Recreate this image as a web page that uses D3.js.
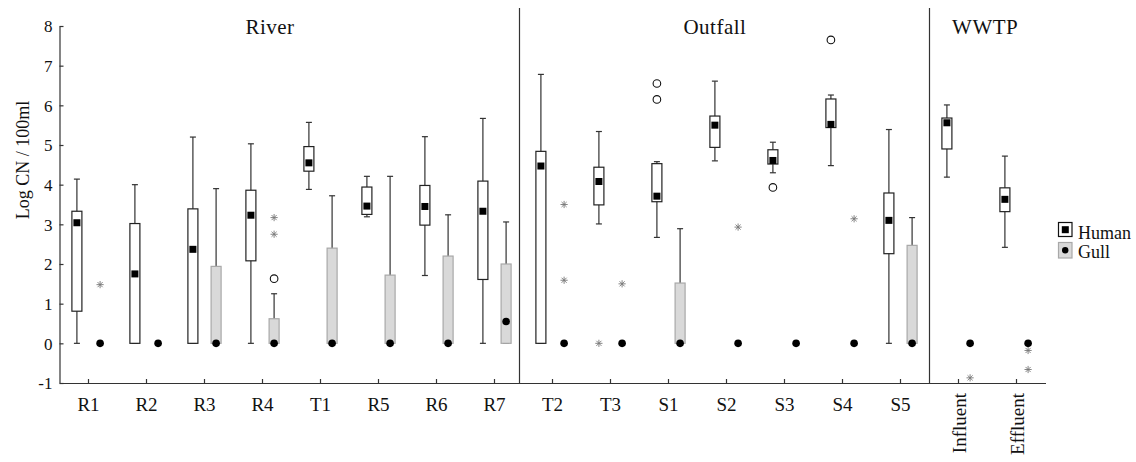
<!DOCTYPE html>
<html>
<head>
<meta charset="utf-8">
<script src="https://cdn.jsdelivr.net/npm/d3@7"></script>
<style>
  body { margin: 0; background: #fff; }
  text { font-family: "Liberation Serif", "Times New Roman", serif; fill: #111; }
</style>
</head>
<body>
<div id="main"></div>
<script>
// sampling sites, left to right
var categories = ["R1", "R2", "R3", "R4", "T1", "R5", "R6", "R7",
                  "T2", "T3", "S1", "S2", "S3", "S4", "S5", "Influent", "Effluent"];

// [whisker low, q1, median, q3, whisker high]  (log CN / 100ml)
var humanStats = [
  [0, 0.81, 3.04, 3.33, 4.14],
  [0, 0, 1.75, 3.02, 4.0],
  [0, 0, 2.37, 3.39, 5.2],
  [0, 2.08, 3.23, 3.86, 5.03],
  [3.88, 4.34, 4.55, 4.96, 5.57],
  [3.19, 3.25, 3.46, 3.94, 4.21],
  [1.71, 2.98, 3.45, 3.98, 5.21],
  [0, 1.61, 3.33, 4.09, 5.67],
  [0, 0, 4.47, 4.84, 6.78],
  [3.01, 3.49, 4.08, 4.44, 5.34],
  [2.67, 3.57, 3.71, 4.53, 4.58],
  [4.6, 4.94, 5.5, 5.73, 6.61],
  [4.3, 4.52, 4.61, 4.88, 5.07],
  [4.48, 5.44, 5.52, 6.16, 6.26],
  [0, 2.26, 3.1, 3.79, 5.39],
  [4.19, 4.9, 5.56, 5.68, 6.01],
  [2.42, 3.32, 3.63, 3.92, 4.72]
];

var gullStats = [
  [0, 0, 0, 0, 0],
  [0, 0, 0, 0, 0],
  [0, 0, 0, 1.94, 3.9],
  [0, 0, 0, 0.62, 1.25],
  [0, 0, 0, 2.4, 3.72],
  [0, 0, 0, 1.72, 4.21],
  [0, 0, 0, 2.2, 3.24],
  [0, 0, 0.55, 2.0, 3.06],
  [0, 0, 0, 0, 0],
  [0, 0, 0, 0, 0],
  [0, 0, 0, 1.52, 2.89],
  [0, 0, 0, 0, 0],
  [0, 0, 0, 0, 0],
  [0, 0, 0, 0, 0],
  [0, 0, 0, 2.47, 3.17],
  [0, 0, 0, 0, 0],
  [0, 0, 0, 0, 0]
];

// outliers (open circles) and extremes (asterisks): [site, marker, value]
var outliers = [
  ["R4", "gull", 1.63],
  ["S1", "human", 6.55],
  ["S1", "human", 6.15],
  ["S3", "human", 3.93],
  ["S4", "human", 7.65]
];
var extremes = [
  ["R1", "gull", 1.48],
  ["R4", "gull", 3.17],
  ["R4", "gull", 2.75],
  ["T2", "gull", 3.5],
  ["T2", "gull", 1.59],
  ["T3", "human", 0],
  ["T3", "gull", 1.5],
  ["S2", "gull", 2.93],
  ["S4", "gull", 3.14],
  ["Influent", "gull", -0.87],
  ["Effluent", "gull", -0.66],
  ["Effluent", "gull", -0.18]
];

var yTicks = [-1, 0, 1, 2, 3, 4, 5, 6, 7, 8];

// site groups; labelAt = band index where the title is centred
var sections = [
  { name: "River",   first: "R1",       last: "R7",       labelAt: 3.13 },
  { name: "Outfall", first: "T2",       last: "S5",       labelAt: 10.8 },
  { name: "WWTP",    first: "Influent", last: "Effluent", labelAt: 15.46 }
];

var width = 1136, height = 462;

var svg = d3.select("#main").append("svg")
  .attr("width", width)
  .attr("height", height);

var x = d3.scaleBand()
  .domain(categories)
  .range([59.5, 1045.5])
  .padding(0);

var y = d3.scaleLinear()
  .domain([-1, 8])
  .range([383, 26]);

var step = x.step();
var off = step * 0.2;   // distance of each marker from the site tick
var boxW = 10;
var capW = 6;

function cx(site, group) {
  return x(site) + step / 2 + (group == "human" ? -off : off);
}

// y axis
var yAxis = svg.append("g")
  .attr("transform", "translate(59.5,0)")
  .call(d3.axisLeft(y).tickValues(yTicks).tickFormat(function(d) { return String(d); })
    .tickSizeInner(-4).tickSizeOuter(0).tickPadding(7));
yAxis.selectAll("text").style("font-size", "17px").attr("dy", "0.34em");

// x axis
var xAxis = svg.append("g")
  .attr("transform", "translate(0,383)")
  .call(d3.axisBottom(x).tickSizeInner(-4).tickSizeOuter(0).tickPadding(15));
xAxis.selectAll("text").style("font-size", "19px");
xAxis.selectAll("text")
  .filter(function(d) { return d == "Influent" || d == "Effluent"; })
  .attr("transform", "rotate(-90)")
  .attr("text-anchor", "end")
  .attr("x", -10)
  .attr("y", 0)
  .attr("dy", "0.42em");

svg.selectAll(".domain, .tick line").attr("stroke", "#333").attr("stroke-width", 1.2);

// section dividers and titles
sections.forEach(function(s, i) {
  if (i > 0) {
    var bx = x(s.first) - (i == 1 ? 4 : 0);
    svg.append("line")
      .attr("x1", bx).attr("x2", bx)
      .attr("y1", 8).attr("y2", 383)
      .attr("stroke", "#333")
      .attr("stroke-width", 1.2);
  }
  svg.append("text")
    .attr("x", x.range()[0] + (s.labelAt + 0.5) * step)
    .attr("y", 34)
    .attr("text-anchor", "middle")
    .style("font-size", "21px")
    .style("letter-spacing", "0.5px")
    .text(s.name);
});

// y label
svg.append("text")
  .attr("transform", "translate(29,160) rotate(-90)")
  .attr("text-anchor", "middle")
  .style("font-size", "18px")
  .text("Log CN / 100ml");

// draw one box with whiskers
function drawBox(g, site, group, st) {
  var c = cx(site, group);
  var isGull = group == "gull";
  // whisker
  g.append("line")
    .attr("x1", c).attr("x2", c)
    .attr("y1", y(st[0])).attr("y2", y(st[4]))
    .attr("stroke", "#333").attr("stroke-width", 1.2);
  [st[0], st[4]].forEach(function(v) {
    g.append("line")
      .attr("x1", c - capW / 2).attr("x2", c + capW / 2)
      .attr("y1", y(v)).attr("y2", y(v))
      .attr("stroke", "#333").attr("stroke-width", 1.2);
  });
  g.append("rect")
    .attr("x", c - boxW / 2)
    .attr("y", y(st[3]))
    .attr("width", boxW)
    .attr("height", y(st[1]) - y(st[3]))
    .attr("fill", isGull ? "#d9d9d9" : "#fff")
    .attr("stroke", isGull ? "#a8a8a8" : "#222")
    .attr("stroke-width", 1.2);
  if (isGull) {
    g.append("circle")
      .attr("cx", c).attr("cy", y(st[2]))
      .attr("r", 3.8)
      .attr("fill", "#000");
  } else {
    g.append("rect")
      .attr("x", c - 3.5).attr("y", y(st[2]) - 3.5)
      .attr("width", 7).attr("height", 7)
      .attr("fill", "#000");
  }
}

var plot = svg.append("g");
categories.forEach(function(site, i) {
  drawBox(plot, site, "human", humanStats[i]);
  drawBox(plot, site, "gull", gullStats[i]);
});

plot.selectAll(".outlier")
  .data(outliers)
  .enter().append("circle")
  .attr("class", "outlier")
  .attr("cx", function(d) { return cx(d[0], d[1]); })
  .attr("cy", function(d) { return y(d[2]); })
  .attr("r", 3.8)
  .attr("fill", "#fff")
  .attr("stroke", "#111")
  .attr("stroke-width", 1.1);

// eight-armed asterisk
var sr = 3.6, sd = sr * Math.SQRT1_2;
var starPath = "M0," + (-sr) + "V" + sr + "M" + (-sr) + ",0H" + sr +
  "M" + (-sd) + "," + (-sd) + "L" + sd + "," + sd +
  "M" + (-sd) + "," + sd + "L" + sd + "," + (-sd);
plot.selectAll(".extreme")
  .data(extremes)
  .enter().append("path")
  .attr("class", "extreme")
  .attr("d", starPath)
  .attr("transform", function(d) { return "translate(" + cx(d[0], d[1]) + "," + y(d[2]) + ")"; })
  .attr("fill", "none")
  .attr("stroke", "#777")
  .attr("stroke-width", 0.9);

// legend
var legend = svg.append("g").attr("transform", "translate(1058,222)");
legend.append("rect")
  .attr("x", 0.5).attr("y", 0.5).attr("width", 13.5).attr("height", 14)
  .attr("fill", "#fff").attr("stroke", "#111").attr("stroke-width", 1.2);
legend.append("rect")
  .attr("x", 3.8).attr("y", 4.2).attr("width", 7).attr("height", 7)
  .attr("fill", "#000");
legend.append("text").attr("x", 20).attr("y", 16.5).style("font-size", "18px").text("Human");

legend.append("rect")
  .attr("x", 0.5).attr("y", 20.5).attr("width", 13.5).attr("height", 15.5)
  .attr("fill", "#d9d9d9").attr("stroke", "#a8a8a8").attr("stroke-width", 1.2);
legend.append("circle")
  .attr("cx", 7.2).attr("cy", 28.3).attr("r", 3.2)
  .attr("fill", "#000");
legend.append("text").attr("x", 20).attr("y", 35.5).style("font-size", "18px").text("Gull");
</script>
</body>
</html>
